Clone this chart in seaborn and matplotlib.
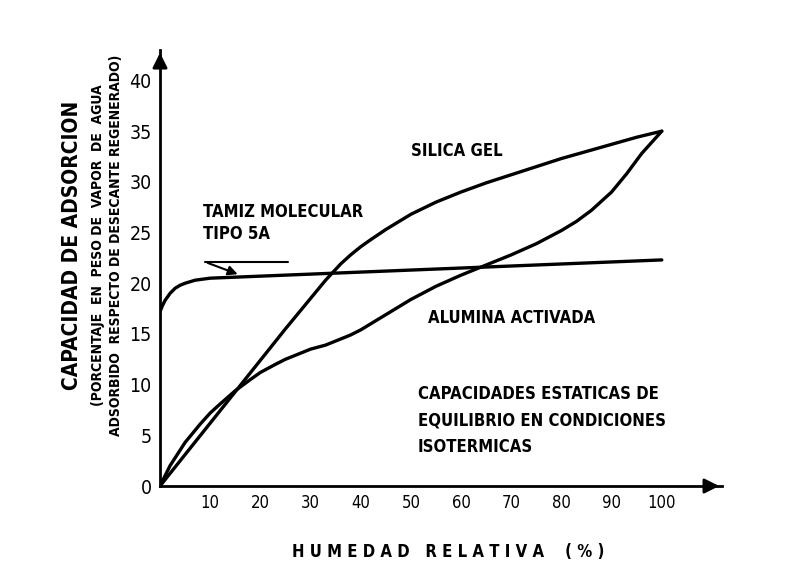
import pandas as pd
import seaborn as sns
import matplotlib.pyplot as plt

# valores (humedad relativa %, capacidad %)
silica_x = [0, 5, 10, 15, 20, 25, 30, 33, 36, 38, 40, 42, 45, 48, 50, 55, 60, 65, 70, 75, 80, 85, 90, 95, 100]
silica_y = [0, 3.1, 6.2, 9.3, 12.4, 15.5, 18.5, 20.3, 21.9, 22.8, 23.6, 24.3, 25.3, 26.2, 26.8,
            28.0, 29.0, 29.9, 30.7, 31.5, 32.3, 33.0, 33.7, 34.4, 35.0]

alumina_x = [0, 2, 5, 8, 10, 12, 15, 18, 20, 23, 25, 28, 30, 33, 35, 38, 40, 43, 45, 50, 55, 60,
             65, 70, 75, 80, 83, 86, 90, 93, 96, 100]
alumina_y = [0, 2.0, 4.3, 6.1, 7.2, 8.1, 9.4, 10.5, 11.2, 12.0, 12.5, 13.1, 13.5, 13.9, 14.3, 14.9,
             15.4, 16.3, 16.9, 18.4, 19.7, 20.8, 21.8, 22.8, 23.9, 25.2, 26.1, 27.2, 29.0, 30.8,
             32.8, 35.0]

tamiz_x = [0, 0.5, 1, 2, 3, 4, 5, 7, 10, 15, 20, 30, 40, 50, 60, 70, 80, 90, 100]
tamiz_y = [17.2, 17.8, 18.3, 19.0, 19.5, 19.8, 20.0, 20.3, 20.5, 20.6, 20.7, 20.9, 21.1, 21.3,
           21.5, 21.7, 21.9, 22.1, 22.3]

x_ticks = [10, 20, 30, 40, 50, 60, 70, 80, 90, 100]
y_ticks = [0, 5, 10, 15, 20, 25, 30, 35, 40]

df = pd.concat([
    pd.DataFrame({'hr': silica_x, 'cap': silica_y, 'desecante': 'SILICA GEL'}),
    pd.DataFrame({'hr': alumina_x, 'cap': alumina_y, 'desecante': 'ALUMINA ACTIVADA'}),
    pd.DataFrame({'hr': tamiz_x, 'cap': tamiz_y, 'desecante': 'TAMIZ MOLECULAR TIPO 5A'}),
])

sns.set_style("white")
plt.rcParams['font.family'] = ['DejaVu Sans']
plt.rcParams['font.stretch'] = 'condensed'
plt.rcParams['text.color'] = 'black'
plt.rcParams['xtick.color'] = 'black'
plt.rcParams['ytick.color'] = 'black'

fig = plt.figure(figsize=(8.04, 5.86), dpi=100)
ax = fig.add_axes([0.199, 0.1706, 0.699, 0.744])

sns.lineplot(data=df, x='hr', y='cap', units='desecante', estimator=None,
             color='black', linewidth=2.4, legend=False, ax=ax)

ax.set_xlim(0, 112)
ax.set_ylim(0, 43)
ax.set_xticks(x_ticks)
ax.set_yticks(y_ticks)
ax.tick_params(axis='x', direction='in', length=6, width=1.5, labelsize=12, pad=6)
ax.tick_params(axis='y', direction='in', length=6, width=1.5, labelsize=14, pad=6)
for s in ['top', 'right']:
    ax.spines[s].set_visible(False)
for s in ['left', 'bottom']:
    ax.spines[s].set_linewidth(2)
    ax.spines[s].set_color('black')
ax.set_xlabel('')
ax.set_ylabel('')

# flechas de los ejes
ax.annotate('', xy=(1.0, 0), xytext=(0.97, 0), xycoords='axes fraction',
            arrowprops=dict(arrowstyle='-|>', color='black', lw=2, mutation_scale=22))
ax.annotate('', xy=(0, 1.0), xytext=(0, 0.97), xycoords='axes fraction',
            arrowprops=dict(arrowstyle='-|>', color='black', lw=2, mutation_scale=22))

# rotulos de las curvas
ax.text(50, 33.0, 'SILICA GEL', fontsize=12, fontweight='bold', va='center')
ax.text(53.4, 16.6, 'ALUMINA ACTIVADA', fontsize=12, fontweight='bold', va='center')
ax.text(8.6, 24.0, 'TAMIZ MOLECULAR\nTIPO 5A', fontsize=12, fontweight='bold',
        va='bottom', linespacing=1.25)
ax.plot([9, 25.5], [22.1, 22.1], color='black', lw=1.5)
ax.annotate('', xy=(16, 20.8), xytext=(9, 22.1),
            arrowprops=dict(arrowstyle='-|>', color='black', lw=1.5, mutation_scale=14))
ax.text(51.4, 6.5, 'CAPACIDADES ESTATICAS DE\nEQUILIBRIO EN CONDICIONES\nISOTERMICAS',
        fontsize=12, fontweight='bold', va='center', linespacing=1.6)

# titulos de los ejes
fig.text(448 / 804, 1 - 552 / 586, 'H U M E D A D   R E L A T I V A    ( % )', fontsize=12,
         fontweight='bold', ha='center', va='center')
fig.text(72 / 804, 1 - 245 / 586, 'CAPACIDAD DE ADSORCION', fontsize=15, fontweight='bold',
         rotation=90, ha='center', va='center')
fig.text(98 / 804, 1 - 245 / 586, '(PORCENTAJE  EN  PESO DE  VAPOR  DE  AGUA', fontsize=10,
         fontweight='bold', rotation=90, ha='center', va='center')
fig.text(116 / 804, 1 - 245 / 586, 'ADSORBIDO  RESPECTO DE DESECANTE REGENERADO)', fontsize=10,
         fontweight='bold', rotation=90, ha='center', va='center')

plt.savefig('out.png', dpi=100)
